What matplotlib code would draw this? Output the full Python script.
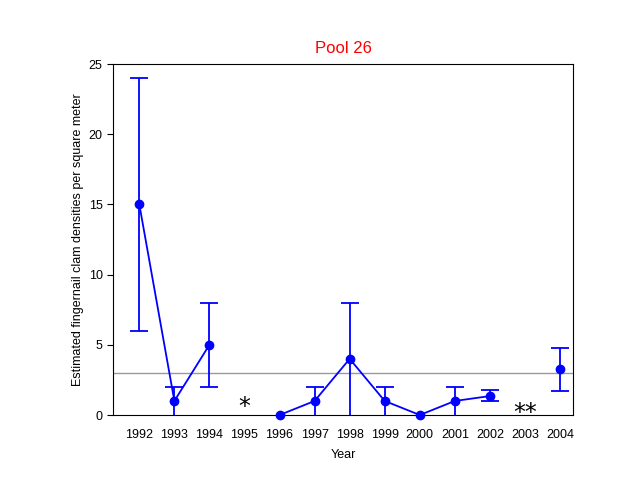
import matplotlib
matplotlib.use("Agg")
import matplotlib.pyplot as plt
import numpy as np

years = [1992, 1993, 1994, 1995, 1996, 1997, 1998, 1999, 2000, 2001, 2002, 2003, 2004]
density = [15, 1, 5, np.nan, 0, 1, 4, 1, 0, 1, 1.35, np.nan, 3.3]
lower = [6, 0, 2, np.nan, 0, 0, 0, 0, 0, 0, 1.0, np.nan, 1.73]
upper = [24, 2, 8, np.nan, 0, 2, 8, 2, 0, 2, 1.78, np.nan, 4.8]
reference_level = 3
notes = {1995: ("*", 0.55), 2003: ("**", 0.15)}

BLUE = "#0000ff"
plt.rcParams["font.family"] = ["Liberation Sans", "DejaVu Sans"]


def main():
    x = np.array(years, dtype=float)
    y = np.array(density, dtype=float)
    lo = np.array(lower, dtype=float)
    hi = np.array(upper, dtype=float)

    fig = plt.figure(figsize=(6.4, 4.95), dpi=100)
    ax = fig.add_axes([0.1766, 0.1616, 0.7187, 0.7091])

    ax.axhline(reference_level, color="#999999", lw=1.0, zorder=1)

    # stems + caps drawn by hand so caps sitting on zero get hidden by the axis
    ok = ~np.isnan(y) & (hi > lo)
    ax.vlines(x[ok], lo[ok], hi[ok], color=BLUE, lw=1.3, zorder=2)
    ax.plot(x[ok], hi[ok], "_", color=BLUE, ms=13, mew=1.3, zorder=2)
    cap_lo = ok & (lo > 0)
    ax.plot(x[cap_lo], lo[cap_lo], "_", color=BLUE, ms=13, mew=1.3, zorder=2)

    ax.plot(x, y, "-o", color=BLUE, lw=1.3, ms=6, zorder=3, clip_on=False)

    for yr, (txt, pos) in notes.items():
        ax.text(yr, pos, txt, ha="center", va="center", fontsize=17,
                family="DejaVu Sans", color="black")

    ax.set_xlim(1991.25, 2004.37)
    ax.set_ylim(0, 25)
    ax.set_xticks(years)
    ax.set_yticks([0, 5, 10, 15, 20, 25])
    ax.tick_params(axis="x", length=0, labelsize=9, pad=10)
    ax.tick_params(axis="y", length=4, labelsize=9, direction="out")
    ax.set_xlabel("Year", fontsize=9, labelpad=6)
    ax.set_ylabel("Estimated fingernail clam densities per square meter",
                  fontsize=9, labelpad=3)
    ax.set_title("Pool 26", color="red", fontsize=12, pad=8)

    fig.savefig("out.png", dpi=100)


if __name__ == "__main__":
    main()
